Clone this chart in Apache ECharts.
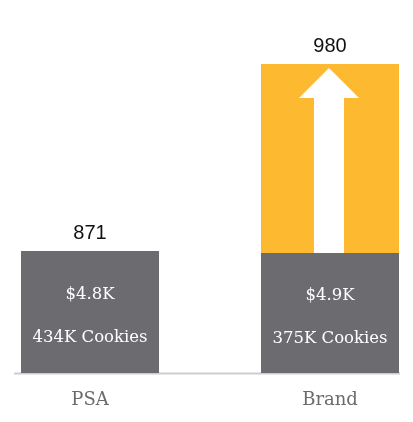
<!DOCTYPE html>
<html>
<head>
<meta charset="utf-8">
<script src="https://cdn.jsdelivr.net/npm/echarts@6/dist/echarts.min.js"></script>
<style>
html,body{margin:0;padding:0;background:#fff;}
#chart{width:413px;height:422px;}
</style>
</head>
<body>
<div id="chart"></div>
<script>
const categories = ['PSA', 'Brand'];
const baseHeights = [122, 120];
const liftHeights = [null, 309];
const totals = [871, 980];
const spendLabels = ['$4.8K', '$4.9K'];
const cookieLabels = ['434K Cookies', '375K Cookies'];

const topHeights = categories.map((c, i) => Math.max(baseHeights[i] || 0, liftHeights[i] || 0));

const chart = echarts.init(document.getElementById('chart'));
chart.setOption({
  animation: false,
  grid: { left: 90, right: 83, top: 63, bottom: 49 },
  xAxis: {
    type: 'category',
    data: categories,
    boundaryGap: false,
    axisLine: { show: false },
    axisTick: { show: false },
    axisLabel: { color: '#6a6a6f', fontFamily: 'DejaVu Serif', fontSize: 18, margin: 18 }
  },
  yAxis: { type: 'value', min: 0, max: 310, show: false },
  graphic: [{
    type: 'line',
    shape: { x1: 14, y1: 373.5, x2: 400, y2: 373.5 },
    style: { stroke: '#cdcdcd', lineWidth: 2 },
    z: 1
  }],
  series: [
    {
      type: 'bar',
      data: liftHeights,
      barWidth: 138,
      barGap: '-100%',
      clip: false,
      itemStyle: { color: '#fdb92f' },
      z: 2,
      markPoint: {
        symbol: 'path://M30,0 L60,30 L45,30 L45,185 L15,185 L15,30 L0,30 Z',
        symbolSize: [60, 185],
        symbolKeepAspect: false,
        symbolOffset: [-1, '-50%'],
        itemStyle: { color: '#ffffff' },
        label: { show: false },
        data: [{ coord: [categories[1], baseHeights[1]] }]
      }
    },
    {
      type: 'bar',
      data: baseHeights,
      barWidth: 138,
      barGap: '-100%',
      clip: false,
      itemStyle: { color: '#6c6c70' },
      z: 3,
      label: {
        show: true,
        position: 'inside',
        formatter: p => spendLabels[p.dataIndex] + '\n' + cookieLabels[p.dataIndex],
        color: '#ffffff',
        fontFamily: 'DejaVu Serif',
        fontSize: 16.5,
        lineHeight: 43,
        offset: [0, 4]
      }
    },
    {
      type: 'bar',
      data: topHeights,
      barWidth: 138,
      barGap: '-100%',
      clip: false,
      itemStyle: { color: 'rgba(0,0,0,0)' },
      z: 4,
      silent: true,
      label: {
        show: true,
        position: 'top',
        distance: 8,
        formatter: p => String(totals[p.dataIndex]),
        color: '#111111',
        fontFamily: 'Liberation Sans',
        fontSize: 20
      }
    }
  ]
});
</script>
</body>
</html>
